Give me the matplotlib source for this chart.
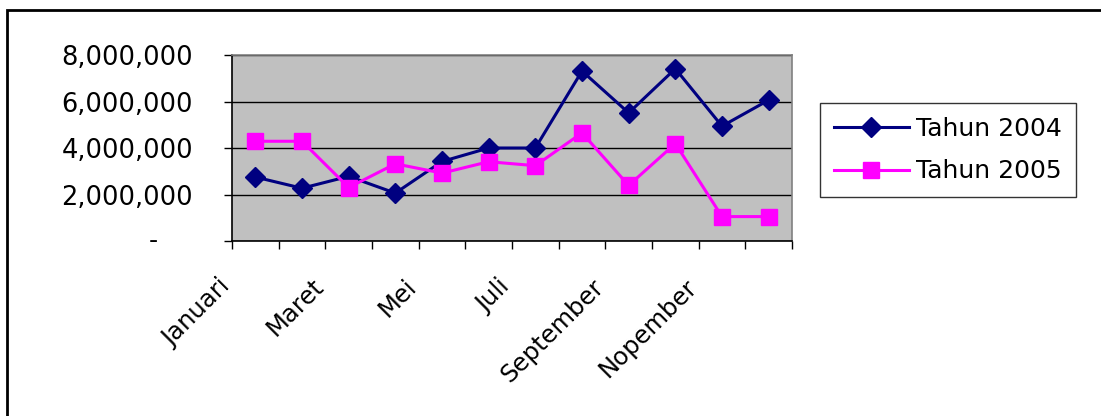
import matplotlib
matplotlib.use("Agg")
import matplotlib.pyplot as plt
from matplotlib.patches import Rectangle
from matplotlib.ticker import FuncFormatter
import matplotlib.transforms as mtransforms

plt.rcParams['font.family'] = ['DejaVu Sans']

bulan = ['Januari', 'Februari', 'Maret', 'April', 'Mei', 'Juni', 'Juli',
         'Agustus', 'September', 'Oktober', 'Nopember', 'Desember']
tahun_2004 = [2750000, 2270000, 2780000, 2060000, 3420000, 4000000,
              4000000, 7310000, 5510000, 7410000, 4940000, 6060000]
tahun_2005 = [4290000, 4290000, 2300000, 3320000, 2920000, 3410000,
              3240000, 4650000, 2390000, 4190000, 1050000, 1050000]
y_ticks = [0, 2000000, 4000000, 6000000, 8000000]

fig = plt.figure(figsize=(11.01, 4.16), dpi=100)
# outer chart border (runs off the bottom edge)
fig.patches.append(Rectangle((7 / 1101, -0.05), 1.2, 1.05 - 10 / 416,
                             transform=fig.transFigure, fill=False,
                             edgecolor='black', linewidth=2, zorder=0))

ax = fig.add_axes([232 / 1101, 1 - 241 / 416, 560 / 1101, 186 / 416])
ax.set_facecolor('#C0C0C0')
for s in ax.spines.values():
    s.set_color('#808080')
    s.set_linewidth(1.2)
ax.spines['left'].set_color('black')
ax.spines['bottom'].set_color('black')

x = list(range(len(bulan)))
ax.plot(x, tahun_2004, color='#000080', lw=2.2, marker='D', ms=10,
        label='Tahun 2004', zorder=3)
ax.plot(x, tahun_2005, color='#FF00FF', lw=2.2, marker='s', ms=12,
        label='Tahun 2005', zorder=3)

ax.set_xlim(-0.5, len(bulan) - 0.5)
ax.set_ylim(0, 8000000)
ax.set_yticks(y_ticks)
ax.yaxis.grid(True, color='black', lw=1)
ax.set_axisbelow(True)
ax.yaxis.set_major_formatter(FuncFormatter(
    lambda v, p: '' if v == 0 else f'{int(v):,}'))
ax.tick_params(axis='y', direction='out', length=6, width=1, pad=22,
               labelsize=18.5)

# zero shown as a dash like an accounting format
ax.text(-79 / 560, 0, '-', transform=ax.get_yaxis_transform(),
        ha='center', va='center', fontsize=18)

# ticks between categories, labels on every second month
ax.set_xticks([i - 0.5 for i in range(len(bulan) + 1)])
ax.set_xticklabels([])
ax.tick_params(axis='x', direction='out', length=6, width=1)
lab_tr = ax.get_xaxis_transform() + mtransforms.ScaledTranslation(
    0, -42 / 100, fig.dpi_scale_trans)
for i in range(0, len(bulan), 2):
    ax.text(i - 0.62, 0, bulan[i], transform=lab_tr, rotation=45,
            rotation_mode='anchor', ha='right', va='center', fontsize=17.5)

leg = fig.legend(loc='upper left', bbox_to_anchor=(820 / 1101, 1 - 103 / 416),
                 borderaxespad=0, frameon=True, fancybox=False,
                 edgecolor='black', fontsize=18, handlelength=3.0,
                 handletextpad=0.3, borderpad=0.55, labelspacing=0.75)
leg.get_frame().set_linewidth(1)

fig.savefig('out.png', dpi=100)
